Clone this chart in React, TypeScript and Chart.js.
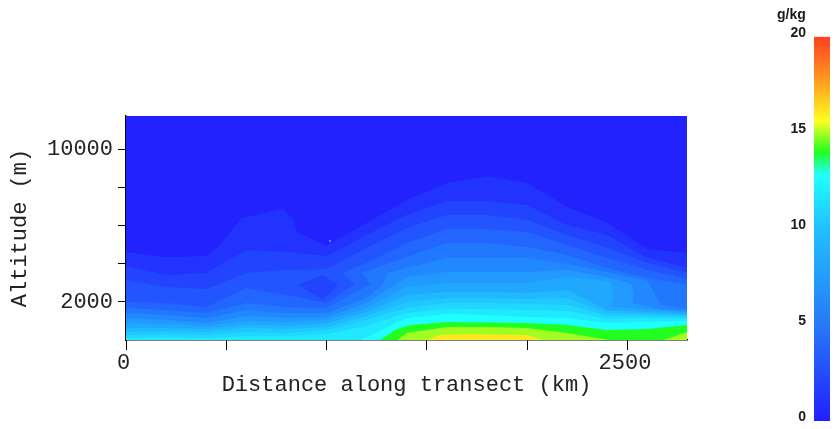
import React, { useEffect, useRef } from "react";
import Chart from "chart.js/auto";

type P = [number, number];

// Contour levels of specific humidity: [distance km, altitude m]
const top0: P[] = [[0, 11760], [2800, 11760]];
const level1: P[] = [[0, 4620], [200, 4358], [400, 4410], [469, 4988], [578, 6405], [783, 6878], [833, 6300], [852, 5670], [997, 4935], [1200, 6143], [1400, 7350], [1600, 8243], [1800, 8610], [2000, 8243], [2200, 6983], [2400, 6143], [2600, 4778], [2800, 4568]];
const level2: P[] = [[0, 3885], [200, 3413], [400, 3518], [600, 4725], [800, 4620], [1000, 4410], [1200, 5513], [1400, 6563], [1600, 7298], [1800, 7298], [2000, 7088], [2200, 6038], [2400, 5513], [2600, 4305], [2800, 3780]];
const level3: P[] = [[0, 3150], [200, 2783], [400, 2678], [600, 3518], [800, 3675], [1000, 3728], [1200, 4830], [1400, 5880], [1600, 6563], [1800, 6563], [2000, 6300], [2200, 5513], [2400, 4830], [2600, 4043], [2800, 3518]];
const islandBottom: P[] = [[857, 2888], [982, 2100], [1057, 2888]];
const islandTop: P[] = [[857, 2888], [982, 3413], [1057, 2888]];
const level4: P[] = [[0, 1995], [200, 1943], [400, 1733], [600, 2730], [800, 2363], [1000, 1943], [1142, 2940], [1077, 3518], [1200, 4043], [1400, 5093], [1600, 5828], [1800, 5828], [2000, 5670], [2200, 4988], [2400, 4305], [2600, 3675], [2800, 3203]];
const level5: P[] = [[0, 1680], [200, 1575], [400, 1418], [600, 1943], [800, 1733], [1000, 1680], [1221, 2940], [1176, 3518], [1400, 4358], [1600, 5093], [1800, 5093], [2000, 4883], [2200, 4463], [2400, 3780], [2600, 3255], [2800, 2888]];
const level6: P[] = [[0, 1418], [200, 1313], [400, 1155], [600, 1575], [800, 1418], [1000, 1418], [1200, 2205], [1281, 2940], [1306, 3518], [1400, 3780], [1600, 4305], [1800, 4305], [2000, 4305], [2200, 3990], [2400, 3570], [2600, 3098], [2647, 2205], [2672, 1838], [2800, 1628]];
const level7: P[] = [[0, 1155], [200, 1050], [400, 893], [600, 1260], [800, 1155], [1000, 1208], [1200, 1943], [1400, 3308], [1600, 3570], [1800, 3570], [2000, 3570], [2200, 3675], [2400, 3308], [2522, 2940], [2532, 2363], [2522, 1943], [2662, 1628], [2800, 1523]];
const level8: P[] = [[0, 893], [200, 840], [400, 735], [600, 998], [800, 945], [1000, 1050], [1200, 1680], [1400, 2783], [1600, 2993], [1800, 2993], [2000, 2993], [2200, 3308], [2400, 3098], [2418, 3045], [2433, 2363], [2418, 1733], [2562, 1628], [2800, 1470]];
const level9: P[] = [[0, 630], [200, 630], [400, 578], [600, 788], [800, 735], [1000, 893], [1200, 1470], [1400, 2363], [1600, 2520], [1800, 2520], [2000, 2468], [2200, 2625], [2400, 1575], [2600, 1470], [2800, 1365]];
const level10: P[] = [[0, 420], [200, 473], [400, 420], [600, 630], [800, 578], [1000, 683], [1200, 1260], [1400, 1995], [1600, 2205], [1800, 2205], [2000, 2153], [2200, 2205], [2400, 1418], [2600, 1365], [2800, 1313]];
const level11: P[] = [[0, 263], [200, 315], [400, 263], [600, 420], [800, 368], [1000, 525], [1200, 1050], [1400, 1680], [1600, 1943], [1800, 1943], [2000, 1890], [2200, 1838], [2400, 1260], [2600, 1260], [2800, 1208]];
const level12: P[] = [[0, 105], [200, 158], [400, 105], [600, 210], [800, 210], [1000, 315], [1200, 735], [1400, 1418], [1600, 1628], [1800, 1628], [2000, 1575], [2200, 1523], [2400, 1103], [2600, 1155], [2800, 1103]];
const level13: P[] = [[1167, -10], [1400, 1155], [1600, 1365], [1800, 1313], [2000, 1208], [2200, 1155], [2400, 893], [2600, 945], [2800, 998]];
const level14: P[] = [[1266, -10], [1341, 525], [1416, 788], [1600, 945], [1800, 920], [2000, 893], [2200, 788], [2400, 525], [2600, 578], [2800, 788]];
const level15: P[] = [[1351, -10], [1400, 368], [1600, 683], [1800, 683], [2000, 630], [2200, 368], [2413, -10], [2677, -10], [2800, 420]];
const level16: P[] = [[1500, -10], [1565, 260], [1700, 300], [2000, 260], [2079, -10]];
const speck: P[] = [[1017, 5198]];

const levels: P[][] = [top0, level1, level2, level3, level4, level5, level6, level7, level8, level9, level10, level11, level12, level13, level14, level15, level16];
const bandColors = ["#2222ff", "#2233ff", "#2244ff", "#2255ff", "#2266ff", "#2277ff", "#2288ff", "#2299ff", "#20a8ff", "#20b8ff", "#20c8ff", "#20d8ff", "#20e8ff", "#20ffff", "#20ff20", "#a0ff20", "#ffe820"];
const islandColor = bandColors[2];

const xTickLabels: Record<number, string> = { 0: "0", 2500: "2500" };
const yTickLabels: Record<number, string> = { 2000: "2000", 10000: "10000" };
const yTickValues = [2000, 4000, 6000, 8000, 10000];

const barTicks = [0, 5, 10, 15, 20];
const barStops: [number, string][] = [
  [0, "#2020ff"], [0.25, "#2878f8"], [0.5, "#20c0ff"], [0.64, "#20ffff"], [0.7, "#20ff20"],
  [0.75, "#a8ff20"], [0.78, "#ffff20"], [0.9, "#ff9020"], [1, "#ff4020"],
];

const axisFont = { family: "'Liberation Mono'", size: 22, weight: "normal" as const };

export default function App() {
  const mainRef = useRef<HTMLCanvasElement>(null);
  const barRef = useRef<HTMLCanvasElement>(null);

  useEffect(() => {
    const toXY = (pts: P[]) => pts.map(([x, y]) => ({ x, y }));
    const datasets: any[] = [];
    levels.forEach((pts, i) => {
      datasets.push({ data: toXY(pts), showLine: true, borderWidth: 0, pointRadius: 0, fill: "start", backgroundColor: bandColors[i] });
      if (i === 3) {
        datasets.push({ data: toXY(islandBottom), showLine: true, borderWidth: 0, pointRadius: 0, fill: false });
        datasets.push({ data: toXY(islandTop), showLine: true, borderWidth: 0, pointRadius: 0, fill: { target: datasets.length - 1 }, backgroundColor: islandColor });
      }
    });
    datasets.push({ data: toXY(speck), showLine: false, pointRadius: 0.7, borderWidth: 0, pointBackgroundColor: "#ffffff" });
    datasets.forEach((d, i) => (d.order = datasets.length - i));

    const main = new Chart(mainRef.current!, {
      type: "scatter",
      data: { datasets },
      options: {
        responsive: false,
        animation: false,
        events: [],
        layout: { padding: { top: 116, right: 73, left: 0, bottom: 0 } },
        plugins: { legend: { display: false }, tooltip: { enabled: false }, title: { display: false } },
        scales: {
          x: {
            type: "linear",
            min: 0,
            max: 2797,
            afterFit: (s: any) => { s.height = 89; },
            afterBuildTicks: (s: any) => { s.ticks = [0, 500, 1000, 1500, 2000, 2500].map((value) => ({ value })); },
            border: { color: "#000", width: 1.5 },
            grid: { drawOnChartArea: false, drawTicks: true, tickLength: 10, tickColor: "#000", tickWidth: 1 },
            ticks: { autoSkip: false, maxRotation: 0, padding: 0, labelOffset: -2.5, color: "#222", font: axisFont, callback: (v: any) => xTickLabels[v] ?? "" },
            title: { display: true, text: "Distance along transect (km)", color: "#222", font: axisFont, padding: { top: 0, bottom: 31 } },
          },
          y: {
            type: "linear",
            min: 0,
            max: 11760,
            afterFit: (s: any) => { s.width = 126; },
            afterBuildTicks: (s: any) => { s.ticks = yTickValues.map((value) => ({ value })); },
            border: { color: "#000", width: 1.5 },
            grid: { drawOnChartArea: false, drawTicks: true, tickLength: 8, tickColor: "#000", tickWidth: 1 },
            ticks: { autoSkip: false, padding: 5, color: "#222", font: axisFont, callback: (v: any) => yTickLabels[v] ?? "" },
            title: { display: true, text: "Altitude (m)", color: "#222", font: axisFont, padding: { top: 7, bottom: 0 } },
          },
        },
      },
    } as any);

    const barFill = (ctx: any) => {
      const area = ctx.chart.chartArea;
      if (!area) return barStops[0][1];
      const g = ctx.chart.ctx.createLinearGradient(0, area.bottom, 0, area.top);
      barStops.forEach(([o, c]) => g.addColorStop(o, c));
      return g;
    };

    const bar = new Chart(barRef.current!, {
      type: "bar",
      data: { labels: ["g/kg"], datasets: [{ data: [[0, 20]], backgroundColor: barFill, borderWidth: 0, barPercentage: 1, categoryPercentage: 1 }] },
      options: {
        responsive: false,
        animation: false,
        events: [],
        layout: { padding: { top: 0, right: 8, left: 0, bottom: 8 } },
        plugins: {
          legend: { display: false },
          tooltip: { enabled: false },
          title: {
            display: true,
            text: "g/kg",
            align: "start",
            color: "#1a1a1a",
            font: { family: "'Liberation Sans'", size: 14, weight: "bold" },
            padding: { top: 7, bottom: 13 },
          },
        },
        scales: {
          x: { display: false },
          y: {
            min: 0,
            max: 20,
            afterFit: (s: any) => { s.width = 37; s.paddingBottom = 0; s.paddingTop = 0; },
            afterBuildTicks: (s: any) => { s.ticks = barTicks.map((value) => ({ value })); },
            border: { display: false },
            grid: { display: false, drawTicks: false },
            ticks: { autoSkip: false, padding: 8, labelOffset: -3.5, color: "#1a1a1a", font: { family: "'Liberation Sans'", size: 14, weight: "bold" } },
          },
        },
      },
    } as any);

    return () => { main.destroy(); bar.destroy(); };
  }, []);

  return (
    <div>
      <canvas ref={mainRef} width={760} height={429} style={{ position: "fixed", left: 0, top: 0, width: 760, height: 429 }} />
      <canvas ref={barRef} width={61} height={429} style={{ position: "fixed", left: 777, top: 0, width: 61, height: 429 }} />
    </div>
  );
}
